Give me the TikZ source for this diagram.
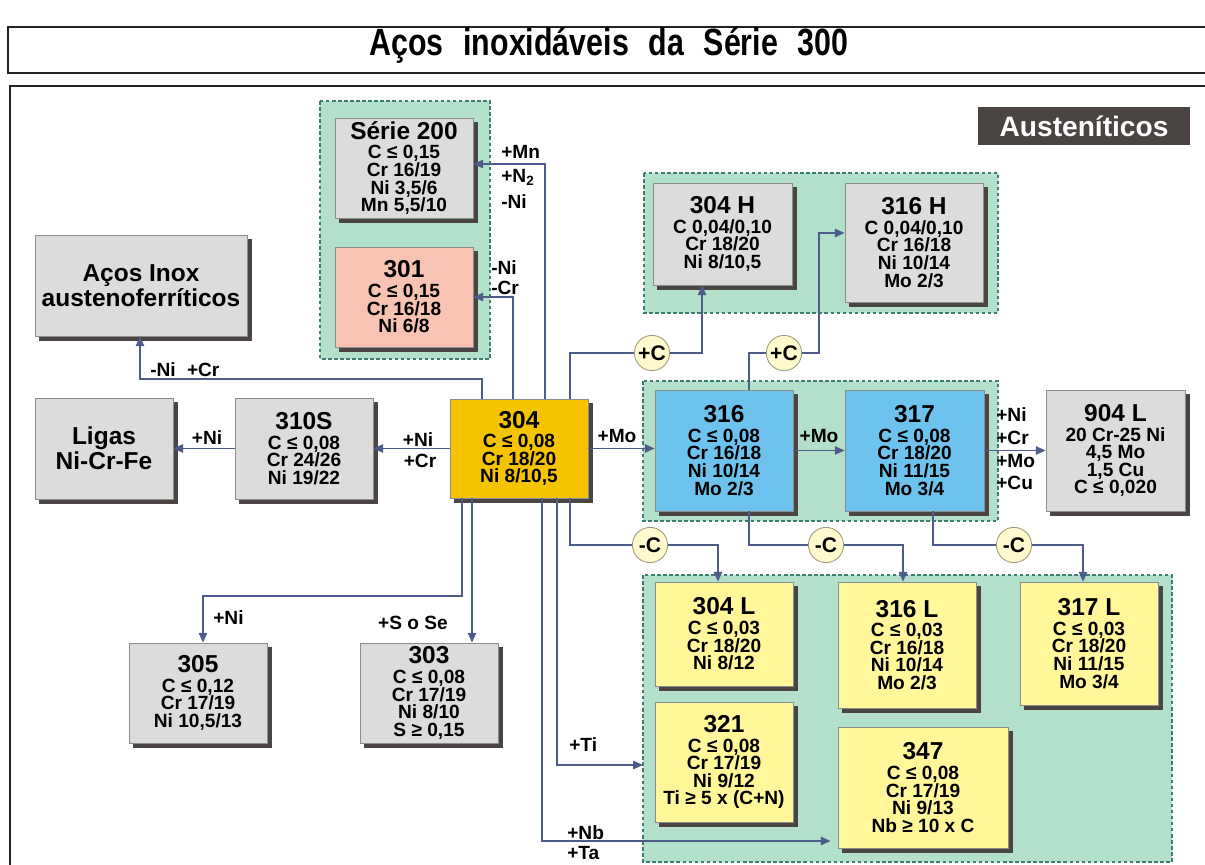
\documentclass[tikz,border=0pt]{standalone}
\usepackage{fontspec}
\setmainfont{Liberation Sans}
\newfontfamily\titlefont[FakeStretch=0.8]{Liberation Sans}
\usetikzlibrary{arrows.meta,shadows}
\definecolor{greybox}{HTML}{DCDCDC}
\definecolor{boxline}{HTML}{8C8C8C}
\definecolor{shadowc}{HTML}{4A4542}
\definecolor{gold}{HTML}{F6C300}
\definecolor{salmon}{HTML}{F8C3B3}
\definecolor{sky}{HTML}{6EC3EE}
\definecolor{lemon}{HTML}{FFF79A}
\definecolor{grpfill}{HTML}{B3E0CA}
\definecolor{grpline}{HTML}{3C7D70}
\definecolor{linkc}{HTML}{4E5C8C}
\definecolor{circfill}{HTML}{FFFACD}
\definecolor{circline}{HTML}{9A9A7A}
\definecolor{framec}{HTML}{222222}
\newcommand\hd[1]{{\fontsize{17.4}{17}\selectfont #1}\\[1.5pt]}

\begin{document}
\begin{tikzpicture}[x=0.025cm,y=-0.025cm,
  font=\fontsize{13.6}{12.5}\selectfont\bfseries,
  box/.style={draw=boxline,fill=greybox,line width=.5pt,align=center,inner sep=1pt,
    minimum width=3.45cm,minimum height=2.5cm,
    drop shadow={shadow xshift=3.2pt,shadow yshift=-3.2pt,fill=shadowc,opacity=1}},
  grp/.style={draw=grpline,fill=grpfill,line width=1.1pt,dash pattern=on 2.5pt off 1.8pt},
  link/.style={draw=linkc,line width=1.1pt,-{Triangle[length=7pt,width=6pt]}},
  stp/.style={circle,draw=circline,fill=circfill,line width=.6pt,minimum size=0.88cm,inner sep=0pt,
    font=\fontsize{15}{15}\selectfont\bfseries},
  lab/.style={inner sep=0pt}]
\useasboundingbox (0,0) rectangle (1205,865);
% frames
\draw[framec,line width=1.3pt] (8,27) rectangle (1230,73);
\draw[framec,line width=1.3pt] (10,86) rectangle (1230,900);
\node (title) at (609,46) {\titlefont\fontsize{27}{30}\selectfont Aços\hspace{14pt}inoxidáveis\hspace{14pt}da\hspace{14pt}Série\hspace{14pt}300};
\node[fill=shadowc,text=white,minimum width=5.3cm,minimum height=0.95cm,
  font=\fontsize{20}{22}\selectfont\bfseries] (aust) at (1084,126) {Austeníticos\hspace{6pt}};
% groups
\draw[grp] (320,101) rectangle (490,359);
\draw[grp] (644,173) rectangle (998,313);
\draw[grp] (643,381) rectangle (998,521);
\draw[grp] (643,575) rectangle (1172,862);
% boxes
\node[box] (s200) at (404,168) {\hd{Série 200}C ≤ 0,15\\Cr 16/19\\Ni 3,5/6\\Mn 5,5/10};
\node[box,fill=salmon] (s301) at (404,297) {\hd{301}C ≤ 0,15\\Cr 16/18\\Ni 6/8};
\node[box,minimum width=5.3cm,minimum height=2.525cm,
  font=\fontsize{17.4}{18}\selectfont\bfseries] (inox) at (141,285.5) {Aços Inox\\austenoferríticos};
\node[box,minimum height=2.525cm,
  font=\fontsize{17.4}{18}\selectfont\bfseries] (ligas) at (104,448.5) {Ligas\\Ni-Cr-Fe};
\node[box,minimum height=2.525cm] (s310) at (304,448.5) {\hd{310S}C ≤ 0,08\\Cr 24/26\\Ni 19/22};
\node[box,fill=gold,minimum height=2.475cm] (s304) at (519,448.5) {\hd{304}C ≤ 0,08\\Cr 18/20\\Ni 8/10,5};
\node[box,minimum width=3.475cm,minimum height=2.55cm] (s304h) at (722.5,234) {\hd{304 H}C 0,04/0,10\\Cr 18/20\\Ni 8/10,5};
\node[box,minimum height=2.975cm] (s316h) at (914,242.5) {\hd{316 H}C 0,04/0,10\\Cr 16/18\\Ni 10/14\\Mo 2/3};
\node[box,fill=sky,minimum height=3.025cm] (s316) at (724,450.5) {\hd{316}C ≤ 0,08\\Cr 16/18\\Ni 10/14\\Mo 2/3};
\node[box,fill=sky,minimum width=3.475cm,minimum height=3.025cm] (s317) at (914.5,450.5) {\hd{317}C ≤ 0,08\\Cr 18/20\\Ni 11/15\\Mo 3/4};
\node[box,minimum width=3.475cm,minimum height=3.025cm] (s904) at (1115.5,450.5) {\hd{904 L}20 Cr-25 Ni\\4,5 Mo\\1,5 Cu\\C ≤ 0,020};
\node[box,fill=lemon,minimum height=2.6cm] (s304l) at (724,634) {\hd{304 L}C ≤ 0,03\\Cr 18/20\\Ni 8/12};
\node[box,fill=lemon,minimum height=3.15cm] (s316l) at (907,645) {\hd{316 L}C ≤ 0,03\\Cr 16/18\\Ni 10/14\\Mo 2/3};
\node[box,fill=lemon,minimum height=3.075cm] (s317l) at (1089,643.5) {\hd{317 L}C ≤ 0,03\\Cr 18/20\\Ni 11/15\\Mo 3/4};
\node[box,fill=lemon,minimum height=3cm] (s321) at (724,762) {\hd{321}C ≤ 0,08\\Cr 17/19\\Ni 9/12\\Ti ≥ 5 x (C+N)};
\node[box,fill=lemon,minimum width=4.25cm,minimum height=3.025cm] (s347) at (923,787.5) {\hd{347}C ≤ 0,08\\Cr 17/19\\Ni 9/13\\Nb ≥ 10 x C};
\node[box] (s305) at (198,693) {\hd{305}C ≤ 0,12\\Cr 17/19\\Ni 10,5/13};
\node[box] (s303) at (429,693) {\hd{303}C ≤ 0,08\\Cr 17/19\\Ni 8/10\\S ≥ 0,15};
% connectors
\draw[link] (s304.north -| 482,0) |- (140,379) -- (inox.south -| 140,0);
\draw[link] (s304.north -| 513,0) |- (s301.east);
\draw[link] (s304.north -| 545,0) |- (s200.east |- 0,164);
\draw[link] (s304.north -| 570,0) |- (702,353) -- (s304h.south -| 702,0);
\draw[link] (s316.north -| 749,0) |- (819,353) |- (s316h.west |- 0,233);
\draw[link] (s304.west) -- (s310.east);
\draw[link] (s310.west) -- (ligas.east);
\draw[link] (s304.east) -- (s316.west |- s304.east);
\draw[link] (s316.east) -- (s317.west);
\draw[link] (s317.east) -- (s904.west);
\draw[link] (s304.south -| 570,0) |- (718,545) -- (s304l.north -| 718,0);
\draw[link] (s316.south -| 749,0) |- (903,545) -- (s316l.north -| 903,0);
\draw[link] (s317.south -| 933,0) |- (1083,545) -- (s317l.north -| 1083,0);
\draw[link] (s304.south -| 462,0) |- (203,596) -- (s305.north -| 203,0);
\draw[link] (s304.south -| 472,0) -- (s303.north -| 472,0);
\coordinate (lowedge) at (643,765);
\draw[link] (s304.south -| 557,0) |- (lowedge);
\draw[link] (s304.south -| 542,0) |- ([xshift=-5pt]s347.west |- 0,841);
% +C / -C
\node[stp] (cp1) at (652,353) {+C};
\node[stp] (cp2) at (784,353) {+C};
\node[stp] (cm1) at (650,545) {-C};
\node[stp] (cm2) at (826,545) {-C};
\node[stp] (cm3) at (1014,545) {-C};
% labels
\node[lab,anchor=west] (tMn) at (501,152) {+Mn};
\node[lab,anchor=west] (tN2) at (501,177) {+N\textsubscript{2}};
\node[lab,anchor=west] (tNi1) at (501,202) {-Ni};
\node[lab,anchor=west] (tNi2) at (491,268) {-Ni};
\node[lab,anchor=west] (tCr2) at (491,288) {-Cr};
\node[lab,anchor=west] (tInox) at (150,370) {-Ni\hspace{8pt}+Cr};
\node[lab] (tNi3) at (207,438) {+Ni};
\node[lab] (tNi4) at (418,440) {+Ni};
\node[lab] (tCr4) at (420,461) {+Cr};
\node[lab] (tMo1) at (617,436) {+Mo};
\node[lab] (tMo2) at (819,436) {+Mo};
\node[lab,anchor=west] (tNi5) at (996,415) {+Ni};
\node[lab,anchor=west] (tCr5) at (996,438) {+Cr};
\node[lab,anchor=west] (tMo5) at (996,461) {+Mo};
\node[lab,anchor=west] (tCu5) at (996,483) {+Cu};
\node[lab,anchor=west] (tNi6) at (213,618) {+Ni};
\node[lab] (tSe) at (413,623) {+S o Se};
\node[lab,anchor=west] (tTi) at (569,745) {+Ti};
\node[lab,anchor=west] (tNb) at (567,833) {+Nb};
\node[lab,anchor=west] (tTa) at (567,853) {+Ta};
\end{tikzpicture}
\end{document}
